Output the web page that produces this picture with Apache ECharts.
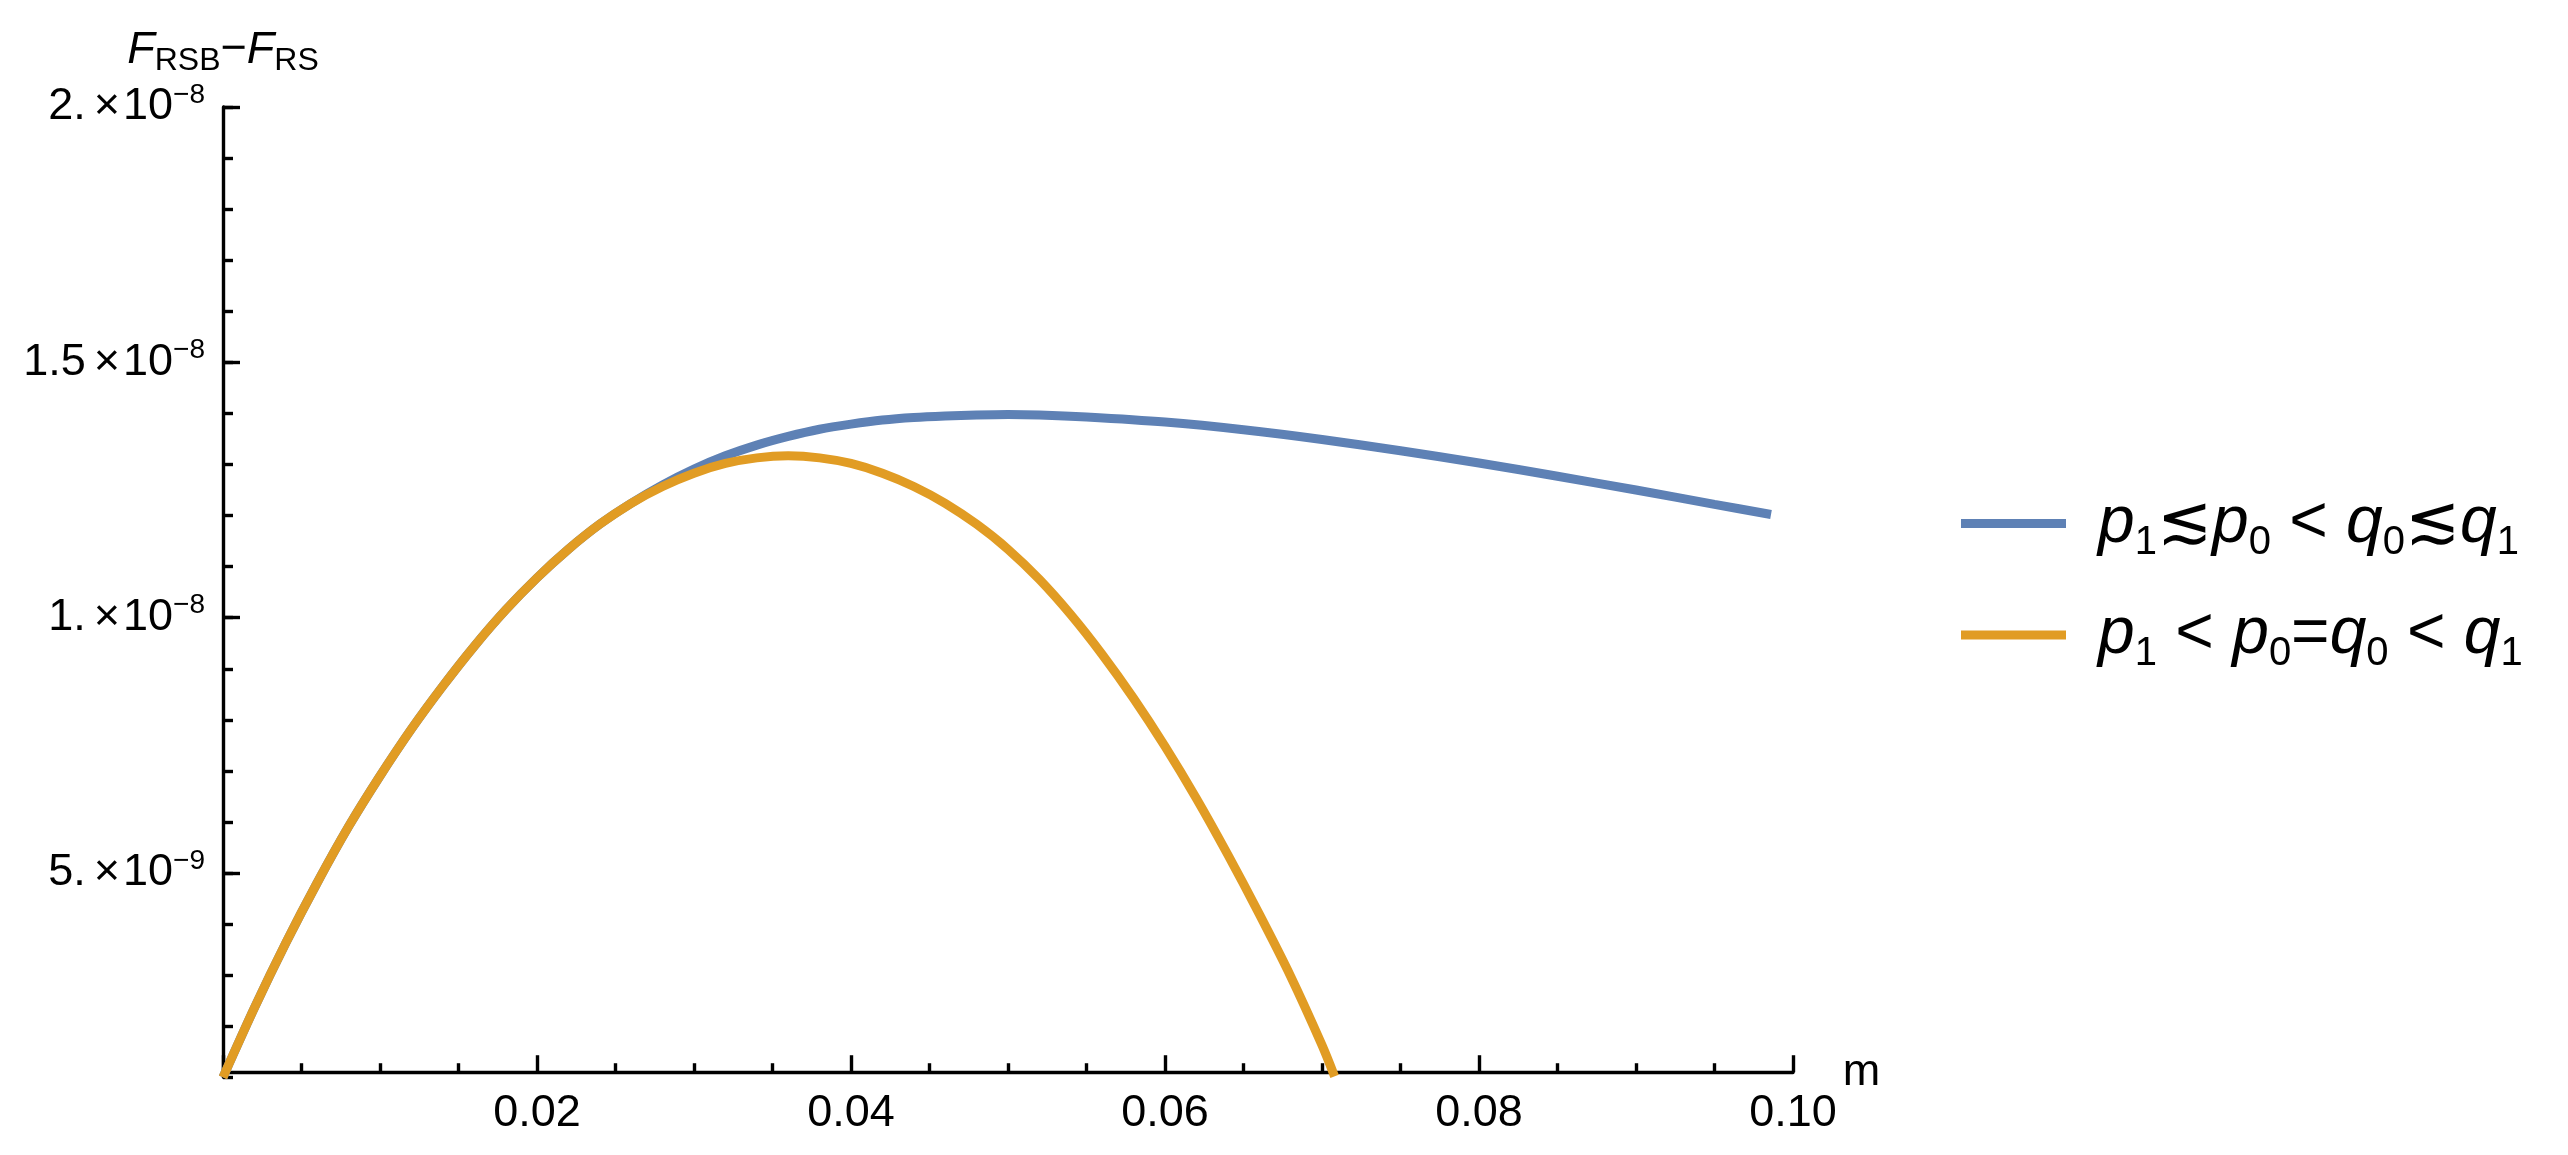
<!DOCTYPE html>
<html>
<head>
<meta charset="utf-8">
<script src="https://cdn.jsdelivr.net/npm/echarts@6/dist/echarts.min.js"></script>
<style>
  html, body { margin: 0; padding: 0; background: #fff; }
  #chart { width: 2568px; height: 1155px; }
</style>
</head>
<body>
<div id="chart"></div>
<script>
// ---------------- data ----------------
const seriesNames = ['p1≲p0 < q0≲q1', 'p1 < p0=q0 < q1'];

// blue curve (p1 ≲ p0 < q0 ≲ q1)
const blueM = [0, 0.002, 0.004, 0.006, 0.008, 0.010, 0.012, 0.014, 0.016, 0.018, 0.020, 0.022, 0.024, 0.026,
               0.028, 0.030, 0.032, 0.034, 0.036, 0.038, 0.040, 0.042, 0.044, 0.046, 0.048, 0.050, 0.052,
               0.055, 0.060, 0.065, 0.070, 0.075, 0.080, 0.085, 0.090, 0.095, 0.0986];
const blueF = [1.00e-9, 2.36e-9, 3.63e-9, 4.81e-9, 5.91e-9, 6.90e-9, 7.82e-9, 8.66e-9, 9.44e-9, 10.15e-9, 10.78e-9, 11.34e-9, 11.83e-9, 12.24e-9,
               12.60e-9, 12.91e-9, 13.17e-9, 13.38e-9, 13.55e-9, 13.69e-9, 13.79e-9, 13.87e-9, 13.92e-9, 13.95e-9, 13.97e-9, 13.98e-9, 13.97e-9,
               13.93e-9, 13.83e-9, 13.68e-9, 13.49e-9, 13.27e-9, 13.03e-9, 12.77e-9, 12.50e-9, 12.22e-9, 12.02e-9];

// orange curve (p1 < p0 = q0 < q1)
const orangeM = [0, 0.002, 0.004, 0.006, 0.008, 0.010, 0.012, 0.014, 0.016, 0.018, 0.020, 0.022, 0.024, 0.026,
                 0.028, 0.030, 0.032, 0.034, 0.036, 0.038, 0.040, 0.042, 0.044, 0.046, 0.048, 0.050, 0.052,
                 0.054, 0.056, 0.058, 0.060, 0.062, 0.064, 0.066, 0.068, 0.070, 0.0708];
const orangeF = [1.00e-9, 2.36e-9, 3.63e-9, 4.81e-9, 5.91e-9, 6.90e-9, 7.82e-9, 8.66e-9, 9.44e-9, 10.15e-9, 10.78e-9, 11.34e-9, 11.83e-9, 12.24e-9,
                 12.57e-9, 12.83e-9, 13.02e-9, 13.13e-9, 13.17e-9, 13.13e-9, 13.02e-9, 12.83e-9, 12.57e-9, 12.24e-9, 11.83e-9, 11.34e-9, 10.75e-9,
                 10.06e-9, 9.28e-9, 8.42e-9, 7.48e-9, 6.46e-9, 5.36e-9, 4.20e-9, 2.98e-9, 1.63e-9, 1.02e-9];

// axes
const xMin = 0, xMax = 0.1, xMajor = 0.02;
const xTickValues = [0.02, 0.04, 0.06, 0.08, 0.10];
const xTickLabels = ['0.02', '0.04', '0.06', '0.08', '0.10'];
const yMax = 2e-8;
const yAxisCross = 1.1e-9;      // where the m axis crosses
const yMinorMin = 1e-9, yMinorStep = 1e-9;
const yMajorMin = 5e-9, yMajorStep = 5e-9;
const yTickValues = [5e-9, 1e-8, 1.5e-8, 2e-8];
const yTickMantissa = ['5.', '1.', '1.5', '2.'];
const yTickExponent = ['−9', '−8', '−8', '−8'];

// ---------------- layout ----------------
const H = 1155;
const plotLeft = 223, plotWidth = 1570, plotTop = 107;
const pxPerNano = 51.07;
const pxOf = v => plotTop + (yMax - v) / 1e-9 * pxPerNano;
const FONT = 'Liberation Sans';
const BLUE = '#5E81B5', ORANGE = '#E19C24';
const AXW = 3.4;
const CURVE_W = 9;

function gridFor(minV) {
  return { left: plotLeft, width: plotWidth, top: plotTop, bottom: H - pxOf(minV),
           containLabel: false, outerBoundsMode: 'none' };
}

function legendRich(name) {
  let s = '';
  for (const c of name) {
    if (c === 'p' || c === 'q') s += '{i|' + c + '}';
    else if (/[0-9]/.test(c)) s += '{s|' + c + '}';
    else s += '{u|' + c + '}';
  }
  return s;
}

const chart = echarts.init(document.getElementById('chart'), null, { renderer: 'canvas' });

const option = {
  animation: false,
  backgroundColor: '#ffffff',
  grid: [gridFor(yAxisCross), gridFor(yMinorMin), gridFor(yMajorMin)],
  legend: {
    orient: 'vertical',
    left: 1956,
    top: 478.5,
    itemWidth: 105,
    itemHeight: 9,
    itemGap: 31.5,
    icon: 'rect',
    data: seriesNames,
    formatter: legendRich,
    textStyle: {
      fontFamily: FONT,
      fontSize: 66,
      color: '#000',
      lineHeight: 80,
      padding: [0, 0, 0, 27],
      rich: {
        i: { fontFamily: FONT, fontSize: 66, fontStyle: 'italic', color: '#000' },
        u: { fontFamily: FONT, fontSize: 66, color: '#000' },
        s: { fontFamily: FONT, fontSize: 40, color: '#000', padding: [38, 0, 0, 0] }
      }
    }
  },
  xAxis: [
    {
      gridIndex: 0, type: 'value', min: xMin, max: xMax, interval: xMajor,
      name: 'm', nameLocation: 'end', nameGap: 40,
      nameTextStyle: { fontFamily: FONT, fontSize: 45, color: '#000', verticalAlign: 'middle', padding: [10, 0, 0, 0] },
      axisLine: { show: true, lineStyle: { color: '#000', width: AXW } },
      axisTick: { show: true, inside: true, length: 17, lineStyle: { color: '#000', width: AXW } },
      minorTick: { show: true, splitNumber: 4, length: 9, lineStyle: { color: '#000', width: AXW } },
      splitLine: { show: false }, minorSplitLine: { show: false },
      axisLabel: {
        show: true, margin: 19, fontFamily: FONT, fontSize: 45, color: '#000',
        showMinLabel: true, showMaxLabel: true, hideOverlap: false,
        formatter: v => {
          const k = xTickValues.findIndex(t => Math.abs(t - v) < 1e-9);
          return k >= 0 ? xTickLabels[k] : '';
        }
      }
    },
    { gridIndex: 1, type: 'value', min: xMin, max: xMax, show: false },
    { gridIndex: 2, type: 'value', min: xMin, max: xMax, show: false }
  ],
  yAxis: [
    { gridIndex: 0, type: 'value', min: yAxisCross, max: yMax, show: false },
    {
      gridIndex: 1, type: 'value', min: yMinorMin, max: yMax, interval: yMinorStep,
      name: '{F|F}{s|RSB}{u|−}{F|F}{s|RS}', nameLocation: 'end', nameGap: 34,
      nameTextStyle: {
        fontFamily: FONT, fontSize: 45, color: '#000', lineHeight: 46,
        rich: {
          F: { fontFamily: FONT, fontSize: 45, fontStyle: 'italic', color: '#000' },
          u: { fontFamily: FONT, fontSize: 45, color: '#000' },
          s: { fontFamily: FONT, fontSize: 32, color: '#000', padding: [23, 0, 0, 0] }
        }
      },
      axisLine: { show: true, lineStyle: { color: '#000', width: AXW } },
      axisTick: { show: true, inside: true, length: 10, lineStyle: { color: '#000', width: AXW } },
      axisLabel: { show: false },
      splitLine: { show: false }
    },
    {
      gridIndex: 2, type: 'value', min: yMajorMin, max: yMax, interval: yMajorStep,
      axisLine: { show: false },
      axisTick: { show: true, inside: true, length: 17, lineStyle: { color: '#000', width: AXW } },
      splitLine: { show: false },
      axisLabel: {
        show: true, margin: 18, fontFamily: FONT, fontSize: 45, color: '#000', lineHeight: 50,
        showMinLabel: true, showMaxLabel: true,
        formatter: v => {
          const k = yTickValues.findIndex(t => Math.abs(t - v) < 1e-12);
          if (k < 0) return '';
          return '{m|' + yTickMantissa[k] + '}{x|×}{m|10}{e|' + yTickExponent[k] + '}';
        },
        rich: {
          m: { fontFamily: FONT, fontSize: 45, color: '#000' },
          x: { fontFamily: FONT, fontSize: 45, color: '#000', padding: [0, 3, 0, 8] },
          e: { fontFamily: FONT, fontSize: 28, color: '#000', padding: [0, 0, 24, 0] }
        }
      }
    }
  ],
  series: [
    {
      name: seriesNames[0], type: 'line', xAxisIndex: 0, yAxisIndex: 0,
      data: blueM.map((m, i) => [m, blueF[i]]),
      smooth: 0.3, showSymbol: false, symbol: 'none', clip: false,
      color: BLUE, lineStyle: { color: BLUE, width: CURVE_W }, z: 3
    },
    {
      name: seriesNames[1], type: 'line', xAxisIndex: 0, yAxisIndex: 0,
      data: orangeM.map((m, i) => [m, orangeF[i]]),
      smooth: 0.3, showSymbol: false, symbol: 'none', clip: false,
      color: ORANGE, lineStyle: { color: ORANGE, width: CURVE_W }, z: 4
    }
  ]
};
chart.setOption(option);
</script>
</body>
</html>
